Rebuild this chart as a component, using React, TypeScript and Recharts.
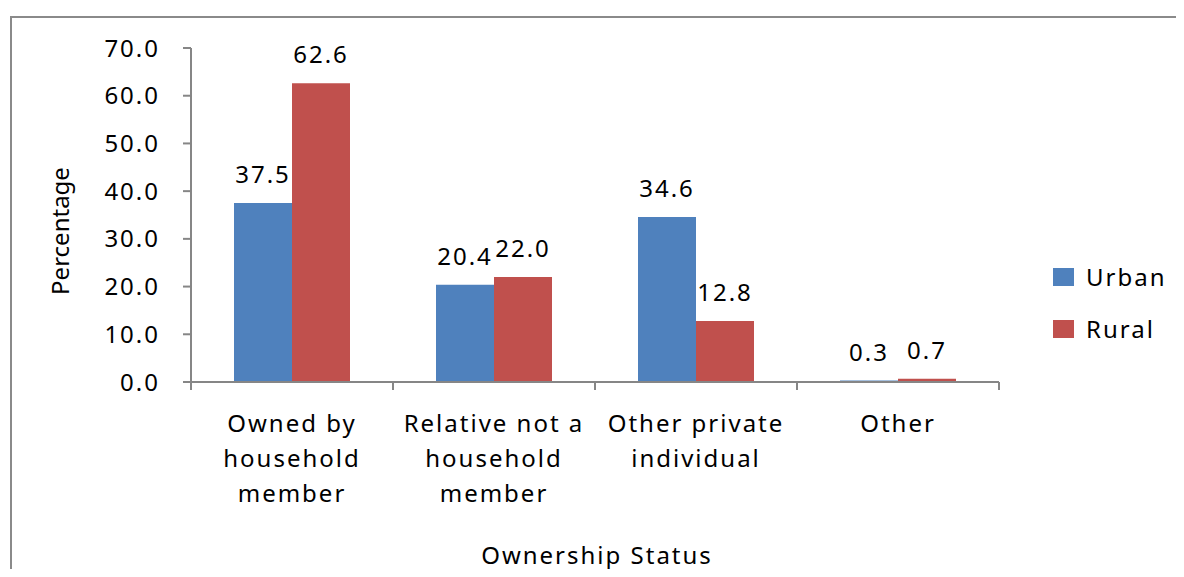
import React from "react";
import { BarChart, Bar, XAxis, YAxis, LabelList, Label } from "recharts";

const categories = [
  "Owned by household member",
  "Relative not a household member",
  "Other private individual",
  "Other",
];
const categoryLines = [
  ["Owned by", "household", "member"],
  ["Relative not a", "household", "member"],
  ["Other private", "individual"],
  ["Other"],
];
const urban = [37.5, 20.4, 34.6, 0.3];
const rural = [62.6, 22.0, 12.8, 0.7];
const yTicks = [0, 10, 20, 30, 40, 50, 60, 70];

const series = [
  { key: "urban", name: "Urban", color: "#4F81BD" },
  { key: "rural", name: "Rural", color: "#C0504D" },
];

const data = categories.map((name, i) => ({ name, urban: urban[i], rural: rural[i] }));

const FONT = "'Noto Sans', sans-serif";
const AXIS = "#868686";
const FS = 24;
const LS = 2;

const CategoryTick = (props: any) => {
  const { x, y, payload } = props;
  const idx = categories.indexOf(payload.value);
  const half = payload.offset ?? 101;
  const lines = categoryLines[idx] || [payload.value];
  return (
    <g>
      <line x1={x - half} x2={x - half} y1={y} y2={y + 8} stroke={AXIS} strokeWidth={2} />
      {idx === categories.length - 1 && (
        <line x1={x + half} x2={x + half} y1={y} y2={y + 8} stroke={AXIS} strokeWidth={2} />
      )}
      {lines.map((t, i) => (
        <text
          key={i}
          x={x}
          y={y + 50 + i * 35}
          textAnchor="middle"
          fontFamily={FONT}
          fontSize={FS}
          letterSpacing={LS}
          fill="#000"
        >
          {t}
        </text>
      ))}
    </g>
  );
};

export default function App() {
  return (
    <div style={{ position: "relative", width: 1176, height: 561 }}>
      <div
        style={{
          position: "absolute",
          left: 2,
          top: 8,
          width: 1174,
          height: 561,
          borderTop: "2px solid #8a8a8a",
          borderLeft: "2px solid #8a8a8a",
          boxSizing: "border-box",
        }}
      />
      <BarChart
        width={1176}
        height={569}
        data={data}
        margin={{ top: 40, right: 185, bottom: 0, left: 0 }}
        barGap={0}
        style={{ position: "absolute", left: 0, top: 0 }}
      >
        <YAxis
          width={183}
          domain={[0, 70]}
          ticks={yTicks}
          interval={0}
          tickFormatter={(v: number) => v.toFixed(1)}
          tickSize={8}
          tickMargin={23}
          axisLine={{ stroke: AXIS, strokeWidth: 2 }}
          tickLine={{ stroke: AXIS, strokeWidth: 2 }}
          tick={{ fontFamily: FONT, fontSize: FS, letterSpacing: LS, fill: "#000" }}
        >
          <Label
            content={() => (
              <text
                x={51}
                y={223}
                transform="rotate(-90 51 223)"
                textAnchor="middle"
                dominantBaseline="central"
                fontFamily={FONT}
                fontSize={24}
                fill="#000"
              >
                Percentage
              </text>
            )}
          />
        </YAxis>
        <XAxis
          dataKey="name"
          height={195}
          interval={0}
          tickSize={0}
          tickMargin={0}
          tickLine={false}
          axisLine={{ stroke: AXIS, strokeWidth: 2 }}
          tick={<CategoryTick />}
        >
          <Label
            content={() => (
              <text
                x={589}
                y={556}
                textAnchor="middle"
                fontFamily={FONT}
                fontSize={FS}
                letterSpacing={LS}
                fill="#000"
              >
                Ownership Status
              </text>
            )}
          />
        </XAxis>
        {series.map((s) => (
          <Bar key={s.key} dataKey={s.key} name={s.name} fill={s.color} barSize={58} isAnimationActive={false}>
            <LabelList
              dataKey={s.key}
              position="top"
              offset={20}
              formatter={(v: any) => Number(v).toFixed(1)}
              style={{ fontFamily: FONT, fontSize: FS, letterSpacing: LS, fill: "#000" }}
            />
          </Bar>
        ))}
      </BarChart>
      <div style={{ position: "absolute", left: 1045, top: 260, fontFamily: FONT, fontSize: FS, letterSpacing: LS }}>
        {series.map((s) => (
          <div key={s.key} style={{ display: "flex", alignItems: "center", height: 18, marginBottom: 34 }}>
            <div style={{ width: 21, height: 18, background: s.color, marginRight: 12 }} />
            <span style={{ lineHeight: "18px" }}>{s.name}</span>
          </div>
        ))}
      </div>
    </div>
  );
}
